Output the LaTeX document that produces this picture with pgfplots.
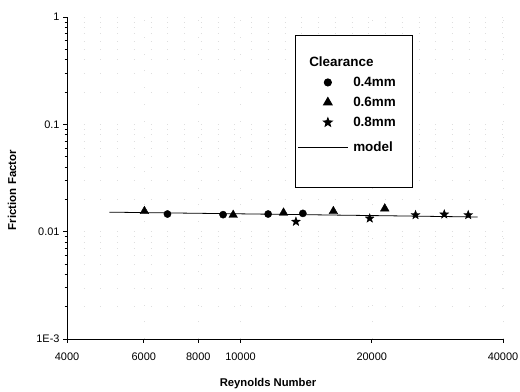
\documentclass[border=0pt]{standalone}
\usepackage{fontspec}
\setmainfont{Liberation Sans}
\setsansfont{Liberation Sans}
\usepackage{pgfplots}
\pgfplotsset{compat=1.18}
\pgfdeclareplotmark{fstar}{%
  \pgfpathmoveto{\pgfpointpolar{90}{\pgfplotmarksize}}%
  \pgfpathlineto{\pgfpointpolar{126}{0.42\pgfplotmarksize}}%
  \pgfpathlineto{\pgfpointpolar{162}{\pgfplotmarksize}}%
  \pgfpathlineto{\pgfpointpolar{198}{0.42\pgfplotmarksize}}%
  \pgfpathlineto{\pgfpointpolar{234}{\pgfplotmarksize}}%
  \pgfpathlineto{\pgfpointpolar{270}{0.42\pgfplotmarksize}}%
  \pgfpathlineto{\pgfpointpolar{306}{\pgfplotmarksize}}%
  \pgfpathlineto{\pgfpointpolar{342}{0.42\pgfplotmarksize}}%
  \pgfpathlineto{\pgfpointpolar{18}{\pgfplotmarksize}}%
  \pgfpathlineto{\pgfpointpolar{54}{0.42\pgfplotmarksize}}%
  \pgfpathclose
  \pgfusepathqfillstroke}
\pgfplotsset{
  markleg/.style={legend image code/.code={\draw[##1] plot coordinates {(0bp,0bp)};}},
  lineleg/.style={legend image code/.code={\draw[##1] (-30bp,0bp) -- (20bp,0bp);}},
}
\begin{document}
\begin{tikzpicture}
\begin{axis}[
  scale only axis, width=436bp, height=322bp,
  xmode=log, ymode=log,
  xmin=4000, xmax=40000, ymin=1e-3, ymax=1,
  axis x line*=bottom, axis y line*=left,
  axis line style={line width=0.9pt, -},
  xtick={4000,6000,8000,10000,20000,40000},
  xticklabels={4000,6000,8000,10000,20000,40000},
  minor xtick={},
  ytick={0.001,0.01,0.1,1},
  yticklabels={1E-3,0.01,0.1,1},
  minor ytick={0.002,0.003,0.004,0.005,0.006,0.007,0.008,0.009,0.02,0.03,0.04,0.05,0.06,0.07,0.08,0.09,0.2,0.3,0.4,0.5,0.6,0.7,0.8,0.9},
  tick align=outside,
  major tick length=4bp, minor tick length=2.5bp,
  tick style={black, line width=0.7pt},
  xmajorgrids, ymajorgrids, yminorgrids,
  grid style={black!13, line width=0.5pt, dash pattern=on 0.8pt off 16pt},
  /pgf/number format/assume math mode=true,
  ticklabel style={font=\fontsize{11}{13}\selectfont},
  xticklabel style={yshift=-6bp},
  xlabel={Reynolds Number},
  ylabel={Friction Factor},
  xlabel style={font=\bfseries\fontsize{11.3}{13}\selectfont, at={(axis description cs:0.461,-0.137)}, anchor=center},
  ylabel style={font=\bfseries\fontsize{11.5}{13}\selectfont, at={(axis description cs:-0.126,0.463)}, anchor=center},
  legend cell align=left,
  legend style={at={(axis description cs:0.5229,0.9441)}, anchor=north west,
    draw=black, line width=0.9pt, inner xsep=2bp, inner ysep=19bp,
    row sep=4bp, column sep=3bp,
    font=\bfseries\fontsize{13.5}{16}\selectfont,
    nodes={inner sep=2bp, text height=10bp, text depth=2bp}},
]
\addlegendimage{empty legend}
\addlegendentry{\hspace*{-44bp}Clearance}
\addplot[only marks, mark=*, mark size=3.6bp, black, markleg]
  coordinates {(6800,0.0146) (9120,0.0144) (11570,0.0146) (13900,0.0148)};
\addlegendentry{0.4mm\hspace*{13bp}}
\addplot[only marks, mark=triangle*, mark size=5bp, black, markleg]
  coordinates {(6020,0.0155) (9620,0.0143) (12550,0.0150) (16330,0.0155) (21420,0.0164)};
\addlegendentry{0.6mm}
\addplot[only marks, mark=fstar, mark size=4.6bp, black, markleg]
  coordinates {(13400,0.0124) (19790,0.0133) (25200,0.0143) (29330,0.0145) (33290,0.0143)};
\addlegendentry{0.8mm}
\addlegendimage{empty legend}
\addlegendentry[inner sep=0pt, text height=0pt, text depth=0pt]{\mbox{}}
\addplot[black, line width=0.8pt, no marks, lineleg]
  coordinates {(5000,0.0152) (10000,0.01466) (20000,0.01413) (35000,0.0137)};
\addlegendentry{model}
\addlegendimage{empty legend}
\addlegendentry[inner sep=0pt, text height=9bp, text depth=0pt]{\mbox{}}
\end{axis}
\pgfresetboundingbox
\path (-67bp,-53bp) rectangle (453bp,339bp);
\end{tikzpicture}
\end{document}
